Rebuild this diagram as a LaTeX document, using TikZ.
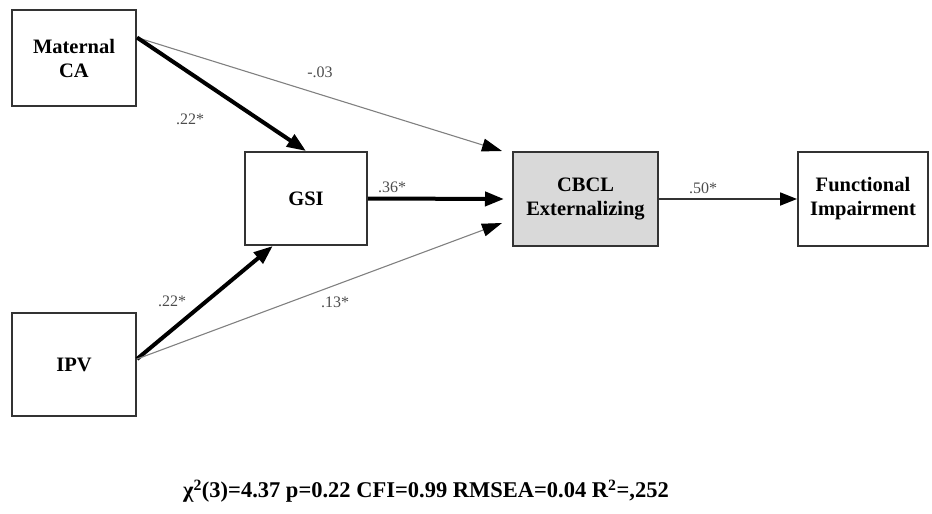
\documentclass[tikz,border=0pt]{standalone}
\usepackage{fontspec}
\setmainfont{Liberation Serif}
\usetikzlibrary{arrows.meta, positioning}
\definecolor{boxgray}{HTML}{D9D9D9}

\tikzset{
    var/.style={draw=black!80, line width=2pt, inner sep=0pt, align=center,
        font=\fontsize{20.5}{24}\selectfont\bfseries},
    coef/.style={text=black!70, font=\fontsize{16}{18}\selectfont},
    heavyedge/.style={line width=4pt, -{Triangle[length=19pt,width=14pt]}},
    midedge/.style={line width=1.8pt, draw=black!80, -{Triangle[length=17pt,width=13pt,color=black]}},
    lightedge/.style={line width=1.1pt, draw=black!50, -{Triangle[length=20pt,width=13pt,color=black]}},
}

\begin{document}
\begin{tikzpicture}[x=1pt, y=-1pt]
    \useasboundingbox (0,0) rectangle (932,514);

    \node[var, minimum width=124pt, minimum height=96pt] (mca) at (74,58) {Maternal\\CA};
    \node[var, minimum width=122pt, minimum height=93pt] (gsi) at (306,198.5) {GSI};
    \node[var, minimum width=124pt, minimum height=103pt] (ipv) at (74,364.5) {IPV};
    \node[var, fill=boxgray, minimum width=145pt, minimum height=94pt] (cbcl) at (585.5,199) {CBCL\\Externalizing};
    \node[var, minimum width=130pt, minimum height=94pt] (fimp) at (863,199) {Functional\\Impairment};

    \draw[lightedge] (mca.18) -- ([xshift=-10pt]cbcl.north west);
    \draw[heavyedge] (mca.18) -- (gsi.north);
    \draw[heavyedge] (gsi.east) -- ([xshift=-8pt]cbcl.west);
    \draw[heavyedge] (ipv.5) -- (gsi.235);
    \draw[lightedge] (ipv.5) -- ([xshift=-10pt,yshift=-24pt]cbcl.west);
    \draw[midedge] (cbcl.east) -- (fimp.west);

    % path coefficients
    \node[coef] (mc) at (320,72) {-.03};
    \node[coef] (mg) at (190,119) {.22*};
    \node[coef] (gc) at (392,187) {.36*};
    \node[coef] (ig) at (172,301) {.22*};
    \node[coef] (ic) at (335,302) {.13*};
    \node[coef] (cf) at (703,188) {.50*};

    \node[font=\fontsize{22.5}{26}\selectfont\bfseries] (gof) at (426,491)
        {χ\textsuperscript{2}(3)=4.37 p=0.22 CFI=0.99 RMSEA=0.04 R\textsuperscript{2}=,252};
\end{tikzpicture}
\end{document}
